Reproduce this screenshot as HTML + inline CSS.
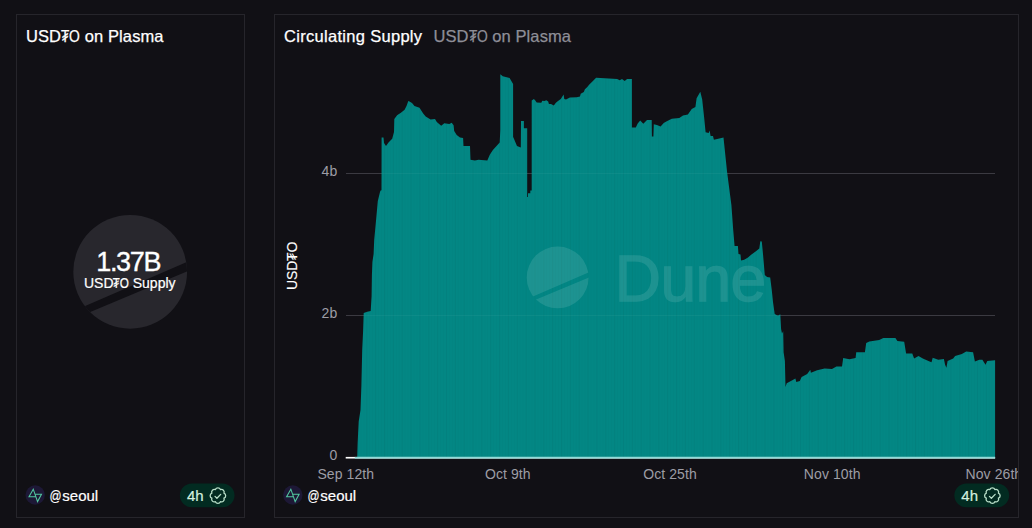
<!DOCTYPE html>
<html><head><meta charset="utf-8"><title>USD₮0 on Plasma</title>
<style>
html,body{margin:0;padding:0;}
body{width:1032px;height:528px;background:#111015;overflow:hidden;position:relative;font-family:"Liberation Sans",sans-serif;color:#fff;}
.panel{position:absolute;top:14px;height:504px;box-sizing:border-box;border:1px solid #26252b;overflow:hidden;}
#p1{left:16px;width:229px;}
#p2{left:274px;width:745px;}
.abs{position:absolute;white-space:nowrap;line-height:1;}
.title{font-size:16.5px;color:#fff;letter-spacing:0.3px;-webkit-text-stroke:0.25px currentColor;}
.sub{color:#8e8e97;}
.z{display:inline-block;transform:scaleX(.84);margin:0 -1px;}
.at{display:inline-block;transform:scaleX(.79);margin:0 -0.6px 0 -1.3px;}
.t{display:inline-block;transform:scaleX(.82);margin:0 -1.1px;}
.user{font-size:15px;color:#fff;-webkit-text-stroke:0.2px #fff;}
.pill{position:absolute;width:54px;height:24px;border-radius:12px;background:#022b21;}
.pill span{position:absolute;left:7px;top:4.5px;font-size:15px;line-height:1;color:#d3efdf;letter-spacing:0.2px;}
.pill svg{position:absolute;left:27.98px;top:2.38px;}
svg{position:absolute;left:0;top:0;overflow:visible;}
svg text{font-family:"Liberation Sans",sans-serif;}
</style></head><body>

<div class="panel" id="p1"></div>
<div class="panel" id="p2"></div>

<!-- left panel content -->
<div class="abs title" style="left:26px;top:27.6px;letter-spacing:0.1px;">USD<span class="t">₮</span><span class="z">O</span> on Plasma</div>

<svg width="1032" height="528" viewBox="0 0 1032 528">
  <defs>
    <clipPath id="c1"><circle cx="130.2" cy="271.8" r="56.9"/></clipPath>
    <clipPath id="bars"><polygon points="357.2,457.5 357.6,444 358.1,433.3 358.7,421.6 360.5,410 361.4,384.9 362.2,350 363.1,330.9 363.7,312.9 367.2,311.7 370.7,311.1 371.6,296 371.9,274.9 372.4,262 373.6,254 374.2,240 376,220.7 377.8,200.9 380,192 380.6,190.6 381.5,190.2 381.6,137.4 383.5,137.4 384,143 386,146 388.5,142.4 392.2,138.7 394,132 394.3,119 397.1,115.3 400.9,112.8 404.6,109.7 406.5,106 408.3,101 409.5,101.5 412,102.9 414.5,106 419.5,107.8 423.2,113.4 425.7,116.5 430.6,119.6 435,119 436.8,122 441.2,125.8 444.3,123.3 449.3,124 451.7,122.7 453.6,125.2 454.2,131 456.7,135 460,137.4 463.1,138 463.5,146.1 470,146 470.5,159.8 474.9,160.4 478.6,159.8 487.3,160.4 489.8,154.8 492.9,149.9 499.7,142.4 500.3,130 500.3,74.3 502.8,76.2 509.6,78 511.5,81.2 513.1,84 513.1,137 513.4,137.4 517,146 520.8,147.4 521,121.1 523.9,121.1 523.9,128.3 527.2,128.3 527.2,197 528,197 528,193.3 530.3,193.3 530.3,190.5 531.7,190.5 531.7,100.4 533.9,99 535.3,100.4 536.7,102.5 541.3,102.8 542.3,100.7 544.4,101.1 546.3,100.2 548.2,101.4 548.9,103.9 551,103.9 553.8,105.6 555.9,102.8 558,101.1 560.8,99 563.6,94.5 564.3,99 566,99.5 569.9,97.6 576.8,97.3 580,96.6 580.7,93.8 583.8,92 584.9,89.2 587.3,87.1 589.1,84.7 592.4,81.5 596.1,77.8 604.8,78.2 617.2,79 619.7,80.3 622,79 624.7,80.9 627.1,79 631.9,79 631.9,127.6 635.8,127.6 637.7,123.5 640.2,120.5 643.3,123.7 647,120 651.7,120 651.9,136.6 653.4,136.6 653.8,124.3 656.9,124.9 660.6,126.5 663.7,123.1 666.8,121.2 671.8,118.7 679.3,118.1 683,115.6 687.9,114.6 691.7,109 695.4,107 696.6,98.3 700.3,91.8 702.2,99.5 704.1,117 705.6,132.3 708.7,132.9 709.6,130.4 710.6,136 713,136 713.9,139.7 719.3,138.5 723.5,137.4 727.1,171.9 731.4,205 733.3,231 734.6,246 737.9,246 738.5,254 740.5,254.6 741,260.5 744.2,259.7 748,257.6 751.1,254.8 755.6,251.4 759.3,248.5 760.3,241.3 761.8,241.6 763.1,255 764.8,275 767.1,277 770.2,277.5 771.8,290.2 773,302 774.7,314 778,315.7 780.3,314.2 781.1,328.9 782,333.6 783.2,331.2 783.6,352.3 784.9,361 785.5,387.1 786.7,383.3 792.3,380.2 795.4,378.4 796.3,382.1 799.8,380.9 801.6,377.1 807.2,374 810.3,369.7 810.9,372.8 817.1,370.3 824.6,368.5 832,369.1 836.4,366.6 842,366.6 843.2,357.9 849.4,359.2 855.6,357.9 856.2,352.3 864.9,352.3 866.2,343 869.3,341.4 879.2,339.9 883.3,338 895.4,338 897.4,341.1 904.2,341.7 906.1,353.5 912.3,353.5 914.1,358.5 918.5,356 922.8,358.5 929.6,361.6 931.5,362.2 932.7,357.8 938.3,359.7 943.9,359.1 945.1,364.7 946.4,367.8 947.6,361 953.2,358.5 955.1,356 961.9,354.1 966.2,351.6 973.1,352.3 974.9,361.6 979.3,359.7 982.4,359.7 985.5,364.7 987.3,361 994.8,360.3 995.1,360.3 995.1,457.5"/></clipPath>
    <clipPath id="c2"><circle cx="557.65" cy="277.45" r="30.9"/></clipPath>
    <pattern id="stripes" x="844.2" y="0" width="8.85" height="10" patternUnits="userSpaceOnUse"><rect x="0" y="0" width="1" height="10" fill="#000" fill-opacity="0.045"/><rect x="2.95" y="0" width="0.8" height="10" fill="#000" fill-opacity="0.015"/><rect x="5.9" y="0" width="0.8" height="10" fill="#000" fill-opacity="0.015"/></pattern>
    <clipPath id="p2clip"><rect x="275" y="15" width="743" height="502"/></clipPath>
  </defs>
  <!-- counter logo -->
  <circle cx="130.2" cy="271.8" r="56.9" fill="#28272d"/>
  <g clip-path="url(#c1)"><polygon points="60,316.9 200,256.3 200,266.04 60,324.65" fill="#111015"/></g>

  <!-- chart -->
  <g clip-path="url(#p2clip)">
  <line x1="346" y1="173.5" x2="995" y2="173.5" stroke="#3b3a41" stroke-width="1"/>
  <line x1="346" y1="315.5" x2="995" y2="315.5" stroke="#3b3a41" stroke-width="1"/>
  <polygon points="357.2,457.5 357.6,444 358.1,433.3 358.7,421.6 360.5,410 361.4,384.9 362.2,350 363.1,330.9 363.7,312.9 367.2,311.7 370.7,311.1 371.6,296 371.9,274.9 372.4,262 373.6,254 374.2,240 376,220.7 377.8,200.9 380,192 380.6,190.6 381.5,190.2 381.6,137.4 383.5,137.4 384,143 386,146 388.5,142.4 392.2,138.7 394,132 394.3,119 397.1,115.3 400.9,112.8 404.6,109.7 406.5,106 408.3,101 409.5,101.5 412,102.9 414.5,106 419.5,107.8 423.2,113.4 425.7,116.5 430.6,119.6 435,119 436.8,122 441.2,125.8 444.3,123.3 449.3,124 451.7,122.7 453.6,125.2 454.2,131 456.7,135 460,137.4 463.1,138 463.5,146.1 470,146 470.5,159.8 474.9,160.4 478.6,159.8 487.3,160.4 489.8,154.8 492.9,149.9 499.7,142.4 500.3,130 500.3,74.3 502.8,76.2 509.6,78 511.5,81.2 513.1,84 513.1,137 513.4,137.4 517,146 520.8,147.4 521,121.1 523.9,121.1 523.9,128.3 527.2,128.3 527.2,197 528,197 528,193.3 530.3,193.3 530.3,190.5 531.7,190.5 531.7,100.4 533.9,99 535.3,100.4 536.7,102.5 541.3,102.8 542.3,100.7 544.4,101.1 546.3,100.2 548.2,101.4 548.9,103.9 551,103.9 553.8,105.6 555.9,102.8 558,101.1 560.8,99 563.6,94.5 564.3,99 566,99.5 569.9,97.6 576.8,97.3 580,96.6 580.7,93.8 583.8,92 584.9,89.2 587.3,87.1 589.1,84.7 592.4,81.5 596.1,77.8 604.8,78.2 617.2,79 619.7,80.3 622,79 624.7,80.9 627.1,79 631.9,79 631.9,127.6 635.8,127.6 637.7,123.5 640.2,120.5 643.3,123.7 647,120 651.7,120 651.9,136.6 653.4,136.6 653.8,124.3 656.9,124.9 660.6,126.5 663.7,123.1 666.8,121.2 671.8,118.7 679.3,118.1 683,115.6 687.9,114.6 691.7,109 695.4,107 696.6,98.3 700.3,91.8 702.2,99.5 704.1,117 705.6,132.3 708.7,132.9 709.6,130.4 710.6,136 713,136 713.9,139.7 719.3,138.5 723.5,137.4 727.1,171.9 731.4,205 733.3,231 734.6,246 737.9,246 738.5,254 740.5,254.6 741,260.5 744.2,259.7 748,257.6 751.1,254.8 755.6,251.4 759.3,248.5 760.3,241.3 761.8,241.6 763.1,255 764.8,275 767.1,277 770.2,277.5 771.8,290.2 773,302 774.7,314 778,315.7 780.3,314.2 781.1,328.9 782,333.6 783.2,331.2 783.6,352.3 784.9,361 785.5,387.1 786.7,383.3 792.3,380.2 795.4,378.4 796.3,382.1 799.8,380.9 801.6,377.1 807.2,374 810.3,369.7 810.9,372.8 817.1,370.3 824.6,368.5 832,369.1 836.4,366.6 842,366.6 843.2,357.9 849.4,359.2 855.6,357.9 856.2,352.3 864.9,352.3 866.2,343 869.3,341.4 879.2,339.9 883.3,338 895.4,338 897.4,341.1 904.2,341.7 906.1,353.5 912.3,353.5 914.1,358.5 918.5,356 922.8,358.5 929.6,361.6 931.5,362.2 932.7,357.8 938.3,359.7 943.9,359.1 945.1,364.7 946.4,367.8 947.6,361 953.2,358.5 955.1,356 961.9,354.1 966.2,351.6 973.1,352.3 974.9,361.6 979.3,359.7 982.4,359.7 985.5,364.7 987.3,361 994.8,360.3 995.1,360.3 995.1,457.5" fill="#038784"/>
  <g clip-path="url(#bars)">
    <rect x="357" y="70" width="640" height="390" fill="url(#stripes)"/>
    <line x1="346" y1="173.5" x2="995" y2="173.5" stroke="#ffffff" stroke-opacity="0.045" stroke-width="1"/>
    <line x1="346" y1="315.5" x2="995" y2="315.5" stroke="#ffffff" stroke-opacity="0.045" stroke-width="1"/>
    <g fill="#ffffff" opacity="0.105">
      <g clip-path="url(#c2)">
        <path d="M520 240 H600 V267.45 L520 302.07 Z"/>
        <path d="M520 306.29 L600 272.79 V320 H520 Z"/>
      </g>
      <text x="614.8" y="301" font-size="64" stroke="#ffffff" stroke-width="1.3" letter-spacing="-0.6">Dune</text>
    </g>
  </g>
  <rect x="345.7" y="456.9" width="649.4" height="1.65" fill="#ffffff"/>
  <rect x="354.8" y="456.9" width="640.3" height="1.65" fill="#8fdcd9"/>
  <g font-size="14" fill="#9d9da5" letter-spacing="0.08">
    <text x="337.3" y="176.4" text-anchor="end">4b</text>
    <text x="337.3" y="318.4" text-anchor="end">2b</text>
    <text x="337.3" y="460.3" text-anchor="end">0</text>
    <text x="345.8" y="478.6" text-anchor="middle">Sep 12th</text>
    <text x="507.8" y="478.6" text-anchor="middle">Oct 9th</text>
    <text x="670" y="478.6" text-anchor="middle">Oct 25th</text>
    <text x="832.2" y="478.6" text-anchor="middle">Nov 10th</text>
    <text x="993.9" y="478.6" text-anchor="middle">Nov 26th</text>
  </g>
  <text transform="translate(297.2,290) rotate(-90)" font-size="14" fill="#ffffff" stroke="#ffffff" stroke-width="0.12" letter-spacing="-0.15">USD₮O</text>
  </g>


  <g id="pill1">
    <rect x="179.9" y="483.4" width="54.6" height="23.9" rx="11.95" fill="#022b21"/>
    <text x="186.9" y="500.5" font-size="15" fill="#d3efdf" stroke="#d3efdf" stroke-width="0.2" letter-spacing="0.1">4h</text>
    <g transform="translate(217.92,495.66)" fill="none" stroke="#b9dfc9" stroke-width="1.3" stroke-linecap="round" stroke-linejoin="round"><path d="M-2.51 -6.05 A2.699 2.699 0 0 1 2.51 -6.05 A2.699 2.699 0 0 1 6.05 -2.51 A2.699 2.699 0 0 1 6.05 2.51 A2.699 2.699 0 0 1 2.51 6.05 A2.699 2.699 0 0 1 -2.51 6.05 A2.699 2.699 0 0 1 -6.05 2.51 A2.699 2.699 0 0 1 -6.05 -2.51 A2.699 2.699 0 0 1 -2.51 -6.05Z"/><path d="M-2.9 0.75 L-1 2.65 L2.77 -1.33"/></g>
  </g>
  <g id="pill2" transform="translate(774.45,0)">
    <rect x="179.9" y="483.4" width="54.8" height="23.9" rx="11.95" fill="#022b21"/>
    <text x="186.9" y="500.5" font-size="15" fill="#d3efdf" stroke="#d3efdf" stroke-width="0.2" letter-spacing="0.1">4h</text>
    <g transform="translate(217.92,495.66)" fill="none" stroke="#b9dfc9" stroke-width="1.3" stroke-linecap="round" stroke-linejoin="round"><path d="M-2.51 -6.05 A2.699 2.699 0 0 1 2.51 -6.05 A2.699 2.699 0 0 1 6.05 -2.51 A2.699 2.699 0 0 1 6.05 2.51 A2.699 2.699 0 0 1 2.51 6.05 A2.699 2.699 0 0 1 -2.51 6.05 A2.699 2.699 0 0 1 -6.05 2.51 A2.699 2.699 0 0 1 -6.05 -2.51 A2.699 2.699 0 0 1 -2.51 -6.05Z"/><path d="M-2.9 0.75 L-1 2.65 L2.77 -1.33"/></g>
  </g>
  <!-- avatars -->
  <g id="av1">
    <circle cx="35.2" cy="495" r="9.7" fill="#1d1836"/>
    <path d="M35.7 496.7 H29 L33.25 489.2 L37.55 501.6 L41.5 494.3 H35" fill="none" stroke="#52c7a0" stroke-width="1.05" stroke-linejoin="miter"/>
  </g>
  <g id="av2" transform="translate(257.6,0)">
    <circle cx="35.2" cy="495" r="9.7" fill="#1d1836"/>
    <path d="M35.7 496.7 H29 L33.25 489.2 L37.55 501.6 L41.5 494.3 H35" fill="none" stroke="#52c7a0" stroke-width="1.05" stroke-linejoin="miter"/>
  </g>
</svg>

<div class="abs" style="left:96.2px;top:249px;font-size:27px;letter-spacing:-1.3px;color:#fff;-webkit-text-stroke:0.35px #fff;">1.37B</div>
<div class="abs" style="left:84px;top:276px;font-size:14px;color:#fff;-webkit-text-stroke:0.2px #fff;">USD<span class="t">₮</span><span class="z">O</span> Supply</div>

<div class="abs user" style="left:49px;top:487.5px;"><span class="at">@</span>seoul</div>

<!-- right panel content -->
<div class="abs title" style="left:284px;top:27.6px;">Circulating Supply</div>
<div class="abs title sub" style="left:433.5px;top:27.6px;letter-spacing:0.1px;">USD<span class="t">₮</span><span class="z">O</span> on Plasma</div>
<div class="abs user" style="left:307px;top:487.5px;"><span class="at">@</span>seoul</div>

</body></html>
